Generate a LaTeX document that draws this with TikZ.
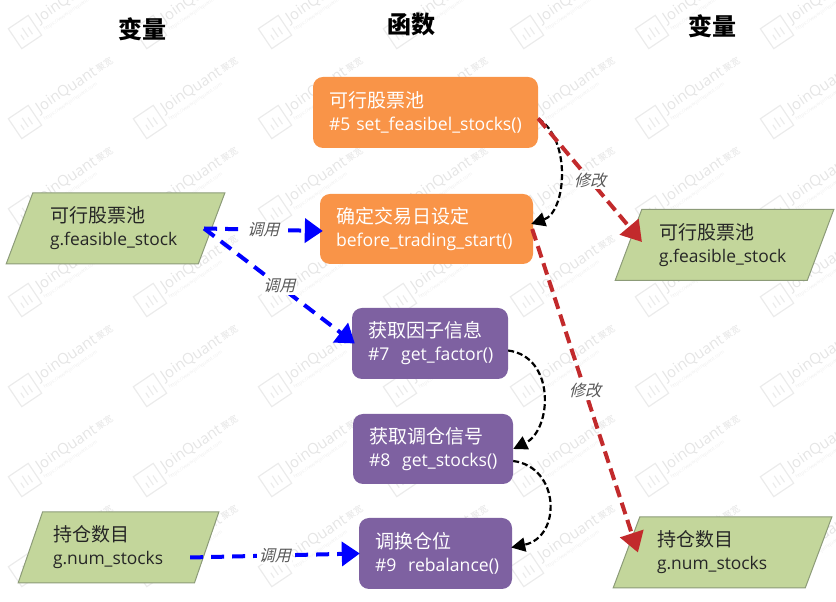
\documentclass[tikz,border=0pt]{standalone}
\usepackage{fontspec}
\setmainfont{Open Sans}
\newfontfamily\cjk{Noto Sans CJK SC}
\newfontfamily\cjkslant[FakeSlant=0.25]{Noto Sans CJK SC}
\usetikzlibrary{arrows.meta,shapes.geometric}
\definecolor{funcorange}{HTML}{F99448}
\definecolor{funcpurple}{HTML}{7E61A1}
\definecolor{vargreen}{HTML}{C3D69B}
\definecolor{varedge}{HTML}{8C9B78}
\definecolor{modred}{HTML}{C22A2C}
\newcommand{\twolines}[2]{{\cjk\fontsize{19}{23}\selectfont #1}\\\mbox{#2}}
\tikzset{
    heading/.style={font=\cjk\bfseries\fontsize{24}{28}\selectfont},
    funcbox/.style={rectangle, rounded corners=10pt, text=white, align=left, inner xsep=16pt, inner ysep=0pt, minimum height=71pt, font=\fontsize{17.6}{23}\selectfont},
    varbox/.style={trapezium, trapezium left angle=64, trapezium right angle=116, trapezium stretches=true,
        draw=varedge, fill=vargreen, line width=1pt, text=black!85, align=left, text width=131pt,
        inner sep=0pt, minimum height=71pt, font=\fontsize{17.4}{23}\selectfont},
    useline/.style={blue, line width=4pt, dash pattern=on 13pt off 8pt, -{Triangle[length=18pt,width=24pt]}},
    modline/.style={modred, line width=4pt, dash pattern=on 12pt off 6pt, -{Triangle[length=20pt,width=24pt]}},
    nextline/.style={black, line width=2.2pt, dash pattern=on 6pt off 3pt, -{Triangle[length=14pt,width=14pt]}},
    flowlabel/.style={fill=white, text=black!65, inner sep=1.5pt, font=\cjkslant\fontsize{16}{18}\selectfont},
    stamp/.style={black!8, line width=1.2pt},
}
\begin{document}
\begin{tikzpicture}[x=1pt,y=1pt]
    \useasboundingbox (0,0) rectangle (836,602);

    % Watermark
    \foreach \wx in {25,150,275,400,527,652,777} {
        \foreach \wy in {32,122,212,300,390,480,570} {
            \begin{scope}[shift={(\wx,602-\wy)},rotate=34,every node/.append style={transform shape}]
                \draw[stamp] (-12,-12) rectangle (12,12);
                \draw[stamp] (-5,-6) -- (-5,0) (0,-6) -- (0,5) (5,-6) -- (5,2);
                \node[anchor=west,text=black!10,inner sep=0pt,font=\fontsize{15}{15}\selectfont] (mark-\wx-\wy) at (17,3) {JoinQuant};
                \node[anchor=west,text=black!10,inner sep=0pt,font=\cjk\fontsize{9}{9}\selectfont] (markcn-\wx-\wy) at (mark-\wx-\wy.east) {\,聚宽};
                \node[anchor=north west,text=black!7,inner sep=0pt,font=\fontsize{5}{5}\selectfont] (markurl-\wx-\wy) at ([yshift=-2pt]mark-\wx-\wy.south west) {https://www.joinquant.com};
            \end{scope}
        }
    }

    % Column headings
    \node[heading] (headleft) at (142,573) {变量};
    \node[heading] (headmid) at (411,578) {函数};
    \node[heading] (headright) at (712,576) {变量};

    % Functions
    \node[funcbox, fill=funcorange, minimum width=225pt, text width=193pt] (setpool) at (425.5,489.5) {\twolines{可行股票池}{\#5 set\_feasibel\_stocks()}};
    \node[funcbox, fill=funcorange, minimum width=213pt, text width=181pt, minimum height=70pt] (before) at (426.5,373) {\twolines{确定交易日设定}{before\_trading\_start()}};
    \node[funcbox, fill=funcpurple, minimum width=156pt, text width=124pt] (factor) at (430,258.5) {\twolines{获取因子信息}{\#7\ \ get\_factor()}};
    \node[funcbox, fill=funcpurple, minimum width=160pt, text width=128pt, minimum height=70pt] (stocks) at (433,153) {\twolines{获取调仓信号}{\#8\ \ get\_stocks()}};
    \node[funcbox, fill=funcpurple, minimum width=153pt, text width=121pt] (rebal) at (435.5,48.5) {\twolines{调换仓位}{\#9\ \ rebalance()}};

    % Variables
    \node[varbox, minimum width=219pt] (poolin) at (115.5,373.5) {\twolines{可行股票池}{g.feasible\_stock}};
    \node[varbox, minimum width=201pt] (numin) at (118.5,54.5) {\twolines{持仓数目}{g.num\_stocks}};
    \node[varbox, minimum width=219pt] (poolout) at (724.5,357) {\twolines{可行股票池}{g.feasible\_stock}};
    \node[varbox, minimum width=219pt] (numout) at (722.5,49.5) {\twolines{持仓数目}{g.num\_stocks}};

    % Calls
    \draw[useline] ([xshift=-8pt]poolin.east) -- ([xshift=3pt,yshift=-2pt]before.west) node[midway,flowlabel] (calla) {调用};
    \draw[useline] ([xshift=-8pt]poolin.east) -- ([xshift=3pt]factor.west) node[midway,flowlabel] (callb) {调用};
    \draw[useline] ([xshift=-17pt,yshift=-10pt]numin.east) -- ([xshift=1pt]rebal.west) node[midway,flowlabel] (callc) {调用};

    % Execution order
    \draw[nextline] ([yshift=-6pt]setpool.east) .. controls (572,462) and (566,390) .. ([xshift=-2pt,yshift=5pt]before.east);
    \draw[nextline] ([yshift=-7pt]factor.east) .. controls (556,245) and (552,172) .. (stocks.east);
    \draw[nextline] ([yshift=-12pt]stocks.east) .. controls (560,135) and (562,65) .. ([xshift=-1pt,yshift=6pt]rebal.east);

    % Modifications
    \draw[modline] ([yshift=-6pt]setpool.east) -- ([xshift=14pt,yshift=3pt]poolout.west) node[midway,flowlabel] (moda) {修改};
    \draw[modline] ([xshift=-1pt]before.east) -- ([xshift=12pt]numout.west) node[midway,flowlabel] (modb) {修改};
\end{tikzpicture}
\end{document}
